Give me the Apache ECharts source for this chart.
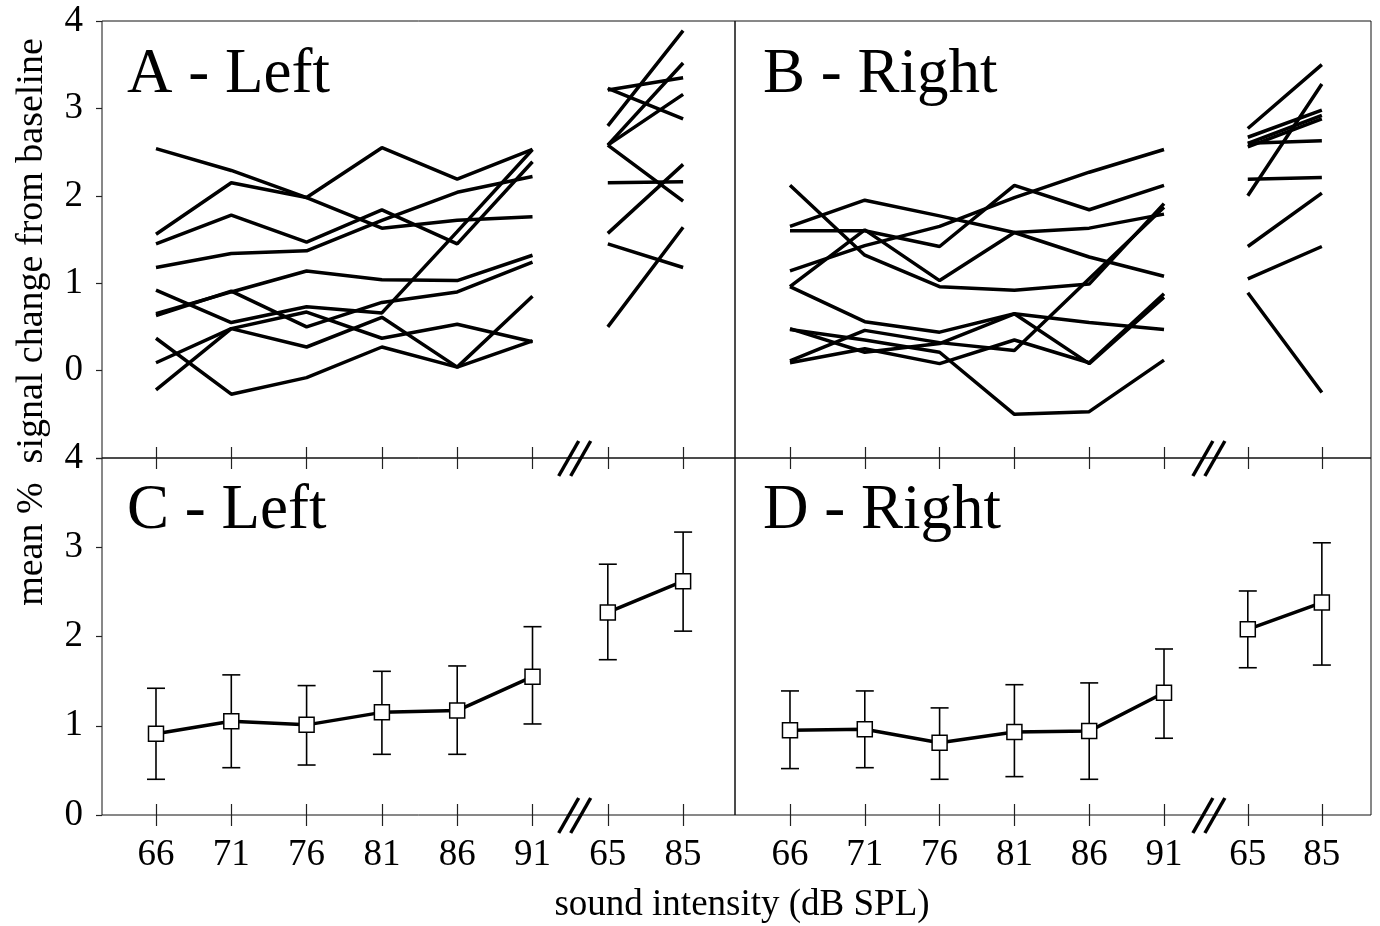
<!DOCTYPE html>
<html>
<head>
<meta charset="utf-8">
<script src="https://cdn.jsdelivr.net/npm/echarts@6/dist/echarts.min.js"></script>
<style>
html, body { margin: 0; padding: 0; background: #fff; }
#chart { width: 1380px; height: 926px; }
</style>
</head>
<body>
<div id="chart"></div>
<script>
// tick labels: six levels of the first run, then the two levels of the second run
var tickLabels = ['66', '71', '76', '81', '86', '91', '65', '85'];

// A - Left: one row per subject, 8 values (break after the 6th)
var leftSubjects = [
    [2.54, 2.29, 1.98, 1.63, 1.72, 1.76, 2.80, 3.89],
    [1.56, 2.15, 1.98, 2.55, 2.19, 2.53, 3.21, 3.35],
    [1.45, 1.78, 1.47, 1.84, 1.45, 2.39, 3.23, 2.88],
    [1.18, 1.34, 1.37, 1.72, 2.04, 2.22, 2.58, 3.52],
    [0.65, 0.90, 1.14, 1.04, 1.03, 1.32, 2.58, 3.16],
    [0.63, 0.91, 0.50, 0.78, 0.90, 1.24, 2.58, 1.94],
    [0.92, 0.55, 0.73, 0.66, 1.59, 2.53, 2.15, 2.16],
    [0.09, 0.48, 0.67, 0.37, 0.53, 0.33, 1.57, 2.36],
    [-0.22, 0.48, 0.27, 0.61, 0.04, 0.85, 1.45, 1.18],
    [0.37, -0.27, -0.08, 0.27, 0.04, 0.34, 0.50, 1.64]
];

// B - Right
var rightSubjects = [
    [2.12, 1.32, 0.96, 0.92, 0.99, 1.91, 2.77, 3.50],
    [1.65, 1.95, 1.77, 1.58, 1.30, 1.08, 2.67, 2.98],
    [1.60, 1.60, 1.42, 2.12, 1.84, 2.12, 2.60, 2.92],
    [1.14, 1.43, 1.65, 1.98, 2.27, 2.53, 2.56, 2.88],
    [0.96, 1.61, 1.03, 1.58, 1.63, 1.79, 2.60, 2.63],
    [0.96, 0.56, 0.44, 0.65, 0.55, 0.47, 2.00, 3.28],
    [0.48, 0.21, 0.31, 0.65, 0.08, 0.84, 2.19, 2.21],
    [0.47, 0.35, 0.21, -0.50, -0.47, 0.12, 1.42, 2.03],
    [0.11, 0.46, 0.32, 0.23, 1.05, 1.87, 1.05, 1.42],
    [0.09, 0.25, 0.08, 0.35, 0.09, 0.88, 0.89, -0.25]
];

// C - Left: group mean with error bar limits
var leftMean = [0.91, 1.05, 1.01, 1.15, 1.17, 1.55, 2.27, 2.62];
var leftLow  = [0.40, 0.53, 0.56, 0.68, 0.68, 1.02, 1.74, 2.06];
var leftHigh = [1.42, 1.57, 1.45, 1.61, 1.67, 2.11, 2.81, 3.17];

// D - Right
var rightMean = [0.95, 0.96, 0.81, 0.93, 0.94, 1.37, 2.08, 2.38];
var rightLow  = [0.52, 0.53, 0.40, 0.43, 0.40, 0.86, 1.65, 1.68];
var rightHigh = [1.39, 1.39, 1.20, 1.46, 1.48, 1.86, 2.51, 3.05];

// layout: where each category sits on the panel's x scale, and where the break mark goes
var slotsL = [0, 1, 2, 3, 4, 5, 6, 7];
var slotsR = [0, 1, 2, 3, 4, 5, 6.12, 7.11];
var breakL = 5.56, breakR = 5.6;

var FONT = '"Liberation Serif", "Times New Roman", serif';

function linePoints(values, slots) {
    var pts = [];
    for (var i = 0; i < values.length; i++) {
        if (i == 6) pts.push([5.5, '-']); // gap between the two runs
        pts.push([slots[i], values[i]]);
    }
    return pts;
}

function errorPoints(low, high, slots) {
    var pts = [];
    for (var i = 0; i < low.length; i++) pts.push([slots[i], low[i], high[i]]);
    return pts;
}

function labelFor(slots) {
    return function(v) {
        for (var i = 0; i < slots.length; i++) {
            if (Math.abs(slots[i] - v) < 0.01) return tickLabels[i];
        }
        return '';
    };
}

function errorBarItem(params, api) {
    var x = api.value(0);
    var lo = api.coord([x, api.value(1)]);
    var hi = api.coord([x, api.value(2)]);
    var cap = 9;
    var st = { stroke: '#000', lineWidth: 1.6 };
    return {
        type: 'group',
        children: [
            { type: 'line', shape: { x1: hi[0], y1: hi[1], x2: lo[0], y2: lo[1] }, style: st },
            { type: 'line', shape: { x1: hi[0] - cap, y1: hi[1], x2: hi[0] + cap, y2: hi[1] }, style: st },
            { type: 'line', shape: { x1: lo[0] - cap, y1: lo[1], x2: lo[0] + cap, y2: lo[1] }, style: st }
        ]
    };
}

function breakMarkItem(params, api) {
    var p = api.coord([api.value(0), api.value(1)]);
    var st = { stroke: '#000', lineWidth: 3.5 };
    return {
        type: 'group',
        children: [
            { type: 'line', shape: { x1: p[0] - 16, y1: p[1] + 18, x2: p[0] + 4, y2: p[1] - 17 }, style: st },
            { type: 'line', shape: { x1: p[0] - 4, y1: p[1] + 18, x2: p[0] + 16, y2: p[1] - 17 }, style: st }
        ]
    };
}

function xAxisDef(gridIndex, slots, min, max, pos, inside, labels) {
    return {
        type: 'value', gridIndex: gridIndex, position: pos,
        min: min, max: max,
        axisLine: { show: false, onZero: false },
        splitLine: { show: false },
        axisTick: { show: true, inside: inside, length: 11, customValues: slots,
                    lineStyle: { color: '#222', width: 1.2 } },
        axisLabel: { show: labels, customValues: slots, formatter: labelFor(slots),
                     fontFamily: FONT, fontSize: 37, color: '#000', margin: 22 }
    };
}

function yAxisDef(gridIndex, min, max, visible) {
    return {
        type: 'value', gridIndex: gridIndex, min: min, max: max, interval: 1,
        show: visible,
        axisLine: { show: false, onZero: false },
        splitLine: { show: false },
        axisTick: { show: true, length: 6, lineStyle: { color: '#222', width: 1.2 } },
        axisLabel: { fontFamily: FONT, fontSize: 37, color: '#000', margin: 19,
                     formatter: function(v) { return v < 0 ? '' : String(v); } }
    };
}

var minL = -0.717, maxL = 7.689, minR = -0.735, maxR = 7.767;
var border = { show: true, borderColor: '#111', borderWidth: 1, backgroundColor: 'transparent' };

var series = [];
leftSubjects.forEach(function(s) {
    series.push({ type: 'line', xAxisIndex: 0, yAxisIndex: 0, data: linePoints(s, slotsL),
                  symbol: 'none', silent: true, lineStyle: { color: '#000', width: 3.5 } });
});
rightSubjects.forEach(function(s) {
    series.push({ type: 'line', xAxisIndex: 1, yAxisIndex: 1, data: linePoints(s, slotsR),
                  symbol: 'none', silent: true, lineStyle: { color: '#000', width: 3.5 } });
});
[[3, 2, leftMean, leftLow, leftHigh, slotsL], [5, 3, rightMean, rightLow, rightHigh, slotsR]].forEach(function(p) {
    series.push({ type: 'custom', xAxisIndex: p[0], yAxisIndex: p[1], z: 2, silent: true,
                  renderItem: errorBarItem, encode: { x: 0, y: [1, 2] },
                  data: errorPoints(p[3], p[4], p[5]) });
    series.push({ type: 'line', xAxisIndex: p[0], yAxisIndex: p[1], z: 3, silent: true,
                  data: linePoints(p[2], p[5]),
                  symbol: 'rect', symbolSize: 15,
                  itemStyle: { color: '#fff', borderColor: '#000', borderWidth: 1.5 },
                  lineStyle: { color: '#000', width: 3.5 } });
});
// break marks on the middle and bottom axes
series.push({ type: 'custom', xAxisIndex: 3, yAxisIndex: 2, z: 4, silent: true, clip: false,
              renderItem: breakMarkItem, data: [[breakL, 4], [breakL, 0]] });
series.push({ type: 'custom', xAxisIndex: 5, yAxisIndex: 3, z: 4, silent: true, clip: false,
              renderItem: breakMarkItem, data: [[breakR, 4], [breakR, 0]] });

var option = {
    animation: false,
    backgroundColor: '#fff',
    grid: [
        Object.assign({ left: 102, top: 21, width: 633, height: 437 }, border),
        Object.assign({ left: 735, top: 21, width: 636, height: 437 }, border),
        Object.assign({ left: 102, top: 458, width: 633, height: 357 }, border),
        Object.assign({ left: 735, top: 458, width: 636, height: 357 }, border),
        { left: 102, top: 458, width: 633, height: 357 },
        { left: 735, top: 458, width: 636, height: 357 }
    ],
    xAxis: [
        xAxisDef(0, slotsL, minL, maxL, 'bottom', false, false),
        xAxisDef(1, slotsR, minR, maxR, 'bottom', false, false),
        xAxisDef(2, slotsL, minL, maxL, 'top', false, false),
        xAxisDef(2, slotsL, minL, maxL, 'bottom', false, true),
        xAxisDef(3, slotsR, minR, maxR, 'top', false, false),
        xAxisDef(3, slotsR, minR, maxR, 'bottom', false, true),
        xAxisDef(4, slotsL, minL, maxL, 'bottom', true, false),
        xAxisDef(5, slotsR, minR, maxR, 'bottom', true, false)
    ],
    yAxis: [
        yAxisDef(0, -1, 4, true),
        yAxisDef(1, -1, 4, false),
        yAxisDef(2, 0, 4, true),
        yAxisDef(3, 0, 4, false),
        yAxisDef(4, 0, 4, false),
        yAxisDef(5, 0, 4, false)
    ],
    graphic: [
        { type: 'text', x: 127, y: 75, style: { text: 'A - Left', font: '63px ' + FONT, fill: '#000', verticalAlign: 'middle' } },
        { type: 'text', x: 763, y: 75, style: { text: 'B - Right', font: '63px ' + FONT, fill: '#000', verticalAlign: 'middle' } },
        { type: 'text', x: 127, y: 511, style: { text: 'C - Left', font: '63px ' + FONT, fill: '#000', verticalAlign: 'middle' } },
        { type: 'text', x: 763, y: 511, style: { text: 'D - Right', font: '63px ' + FONT, fill: '#000', verticalAlign: 'middle' } },
        { type: 'text', x: 32, y: 322, rotation: Math.PI / 2,
          style: { text: 'mean %  signal change from baseline', font: '38px ' + FONT, fill: '#000',
                   align: 'center', verticalAlign: 'middle' } },
        { type: 'text', x: 742, y: 905,
          style: { text: 'sound intensity (dB SPL)', font: '37px ' + FONT, fill: '#000',
                   align: 'center', verticalAlign: 'middle' } }
    ],
    series: series
};

var myChart = echarts.init(document.getElementById('chart'));
myChart.setOption(option);
</script>
</body>
</html>
